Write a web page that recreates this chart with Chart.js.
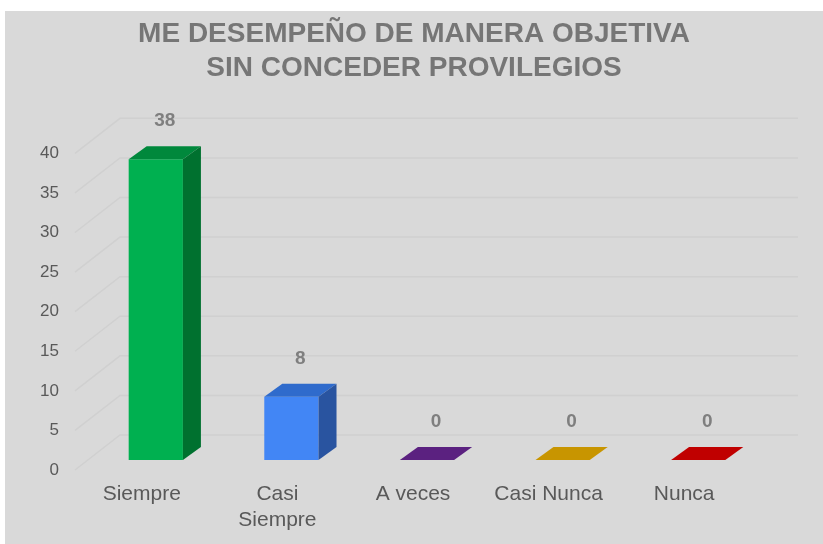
<!DOCTYPE html>
<html>
<head>
<meta charset="utf-8">
<script src="https://cdn.jsdelivr.net/npm/chart.js@4.4.0/dist/chart.umd.min.js"></script>
<style>
    html, body { margin: 0; padding: 0; background: #fff; }
    #chartBox {
        position: absolute; left: 5px; top: 11px;
        width: 818px; height: 533px;
        background: #d9d9d9;
    }
</style>
</head>
<body>
<div id="chartBox"><canvas id="myChart" width="818" height="533"></canvas></div>
<script>
const categories = ["Siempre", ["Casi", "Siempre"], "A veces", "Casi Nunca", "Nunca"];
const values = [38, 8, 0, 0, 0];
const frontColors = ["#00b050", "#4286f5", "#5b2180", "#c89500", "#c00000"];
const topColors = ["#00883c", "#2f6bcc", "#5b2180", "#c89500", "#c00000"];
const sideColors = ["#00712f", "#2954a0", "#46185f", "#9c7400", "#960000"];
const yTicks = [0, 5, 10, 15, 20, 25, 30, 35, 40];

// depth of the bars and of the floor (3D look)
const barDx = 18, barDy = -13;
const floorDx = 45, floorDy = -35;
const frontShiftX = 13, frontShiftY = 10;

const threeD = {
    id: "threeD",
    beforeDatasetsDraw(chart) {
        const ctx = chart.ctx;
        const y = chart.scales.y;
        const area = chart.chartArea;
        ctx.save();
        ctx.strokeStyle = "#d0d0d0";
        ctx.lineWidth = 1.5;
        yTicks.forEach(v => {
            const py = y.getPixelForValue(v);
            const fx = area.left - frontShiftX, fy = py + frontShiftY;
            ctx.beginPath();
            ctx.moveTo(fx, fy);
            ctx.lineTo(fx + floorDx, fy + floorDy);
            ctx.lineTo(area.right - frontShiftX + floorDx, fy + floorDy);
            ctx.stroke();
        });
        ctx.restore();
    },
    afterDatasetsDraw(chart) {
        const ctx = chart.ctx;
        const bars = chart.getDatasetMeta(0).data;
        ctx.save();
        bars.forEach((bar, i) => {
            const half = bar.width / 2;
            const l = bar.x - half, r = bar.x + half;
            const t = bar.y, b = bar.base;
            // top face
            ctx.fillStyle = topColors[i];
            ctx.beginPath();
            ctx.moveTo(l, t);
            ctx.lineTo(l + barDx, t + barDy);
            ctx.lineTo(r + barDx, t + barDy);
            ctx.lineTo(r, t);
            ctx.closePath();
            ctx.fill();
            // side face
            if (b - t > 0.5) {
                ctx.fillStyle = sideColors[i];
                ctx.beginPath();
                ctx.moveTo(r, t);
                ctx.lineTo(r + barDx, t + barDy);
                ctx.lineTo(r + barDx, b + barDy);
                ctx.lineTo(r, b);
                ctx.closePath();
                ctx.fill();
            }
            // value label
            ctx.fillStyle = "#7f7f7f";
            ctx.font = "bold 19px 'Liberation Sans', Arial, sans-serif";
            ctx.textAlign = "center";
            ctx.textBaseline = "middle";
            ctx.fillText(String(values[i]), bar.x + barDx / 2, t + barDy - 25);
        });
        ctx.restore();
    }
};

const data = {
    labels: categories,
    datasets: [{
        data: values,
        backgroundColor: frontColors,
        borderWidth: 0,
        barPercentage: 0.4,
        categoryPercentage: 1
    }]
};

const config = {
    type: "bar",
    data: data,
    options: {
        responsive: false,
        animation: false,
        layout: { padding: 0 },
        plugins: {
            legend: { display: false },
            tooltip: { enabled: false },
            title: {
                display: true,
                text: ["ME DESEMPEÑO DE MANERA OBJETIVA", "SIN CONCEDER PROVILEGIOS"],
                color: "#767676",
                font: { family: "'Liberation Sans', Arial, sans-serif", size: 28, weight: "bold", lineHeight: 1.22 },
                padding: { top: 6, bottom: 58 }
            }
        },
        scales: {
            x: {
                grid: { display: false, drawTicks: false },
                border: { display: false },
                ticks: {
                    color: "#595959",
                    font: { family: "'Liberation Sans', Arial, sans-serif", size: 21, lineHeight: 1.2 },
                    labelOffset: -14,
                    padding: 22,
                    maxRotation: 0,
                    autoSkip: false
                },
                afterFit(scale) { scale.height = 84; }
            },
            y: {
                min: 0,
                max: 40,
                grid: { display: false, drawTicks: false },
                border: { display: false },
                ticks: {
                    stepSize: 5,
                    color: "#595959",
                    font: { family: "'Liberation Sans', Arial, sans-serif", size: 17 },
                    labelOffset: 10,
                    padding: 29
                },
                afterFit(scale) { scale.width = 83; }
            },
            // empty right axis, only keeps room for the depth of the 3D floor
            yRight: {
                position: "right",
                min: 0,
                max: 40,
                grid: { display: false, drawTicks: false },
                border: { display: false },
                ticks: { display: false },
                afterFit(scale) { scale.width = 57; }
            }
        }
    },
    plugins: [threeD]
};

const myChart = new Chart(document.getElementById("myChart"), config);
</script>
</body>
</html>
